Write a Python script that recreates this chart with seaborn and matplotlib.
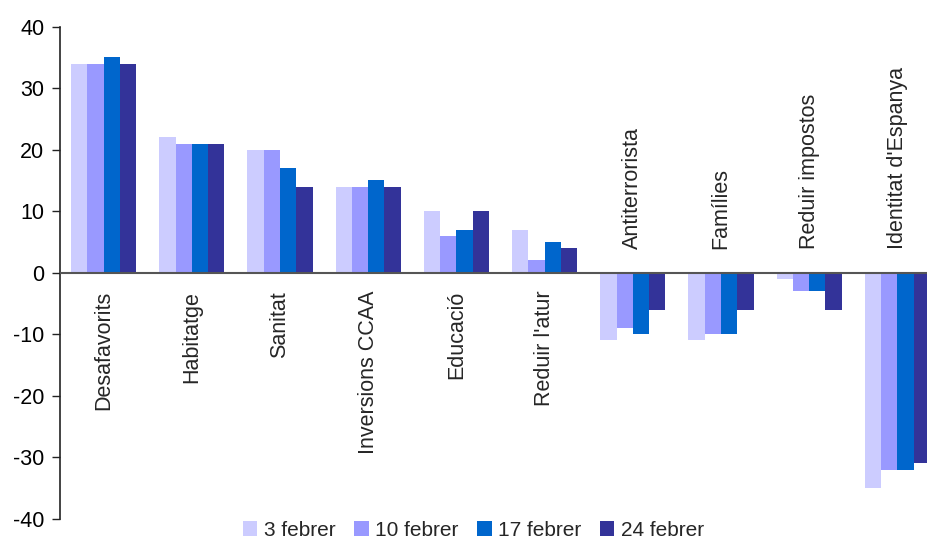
import pandas as pd
import matplotlib
matplotlib.use('Agg')
import matplotlib.pyplot as plt
import seaborn as sns

temes = ['Desafavorits', 'Habitatge', 'Sanitat', 'Inversions CCAA', 'Educació',
         "Reduir l'atur", 'Antiterrorista', 'Famílies', 'Reduir impostos',
         "Identitat d'Espanya"]
dates = ['3 febrer', '10 febrer', '17 febrer', '24 febrer']
feb03 = [34, 22, 20, 14, 10, 7, -11, -11, -1, -35]
feb10 = [34, 21, 20, 14, 6, 2, -9, -10, -3, -32]
feb17 = [35, 21, 17, 15, 7, 5, -10, -10, -3, -32]
feb24 = [34, 21, 14, 14, 10, 4, -6, -6, -6, -31]
colors = ['#CCCCFF', '#9999FF', '#0066CC', '#333399']

rows = []
for d, vals in zip(dates, [feb03, feb10, feb17, feb24]):
    for t, v in zip(temes, vals):
        rows.append({'tema': t, 'data': d, 'valor': v})
df = pd.DataFrame(rows)

sns.set_style('white')
plt.rcParams['font.family'] = ['Liberation Sans', 'DejaVu Sans']
plt.rcParams['axes.unicode_minus'] = False

fig = plt.figure(figsize=(9.28, 5.4), dpi=100)
ax = fig.add_axes([59.5 / 928, 1 - 518.7 / 540, (928 - 59.5) / 928, (518.7 - 26.7) / 540])

sns.barplot(data=df, x='tema', y='valor', hue='data', order=temes, hue_order=dates,
            palette=colors, width=0.737, gap=0, saturation=1, linewidth=0, ax=ax)

ax.set_ylim(-40, 40)
ax.set_xlim(-0.5, -0.5 + 868.5 / 88.2)
ax.set_yticks(range(-40, 41, 10))
ax.tick_params(axis='y', labelsize=15.5, length=6, width=1, direction='out',
               color='#222222', pad=5, left=True, labelcolor='black')
ax.set_xticks([])
ax.set_xlabel('')
ax.set_ylabel('')
for s in ['top', 'right', 'bottom']:
    ax.spines[s].set_visible(False)
ax.spines['left'].set_color('#222222')
ax.spines['left'].set_linewidth(1.2)
ax.axhline(0, color='#555555', lw=1.5, zorder=5)

# etiquetes de categoria dins del grafic, a l'altre costat del zero
for i, t in enumerate(temes):
    if feb03[i] >= 0:
        ax.annotate(t, (i, 0), xytext=(0, -13), textcoords='offset points',
                    rotation=90, ha='center', va='top', fontsize=15.5)
    else:
        ax.annotate(t, (i, 0), xytext=(0, 17), textcoords='offset points',
                    rotation=90, ha='center', va='bottom', fontsize=15.5)

handles, labels = ax.get_legend_handles_labels()
ax.get_legend().remove()
fig.legend(handles, labels, loc='center', bbox_to_anchor=(0.51, 1 - 530 / 540),
           ncol=4, frameon=False, fontsize=15, handlelength=0.7, handleheight=0.7,
           handletextpad=0.3, columnspacing=0.9, borderpad=0)

fig.savefig('out.png', dpi=100)
